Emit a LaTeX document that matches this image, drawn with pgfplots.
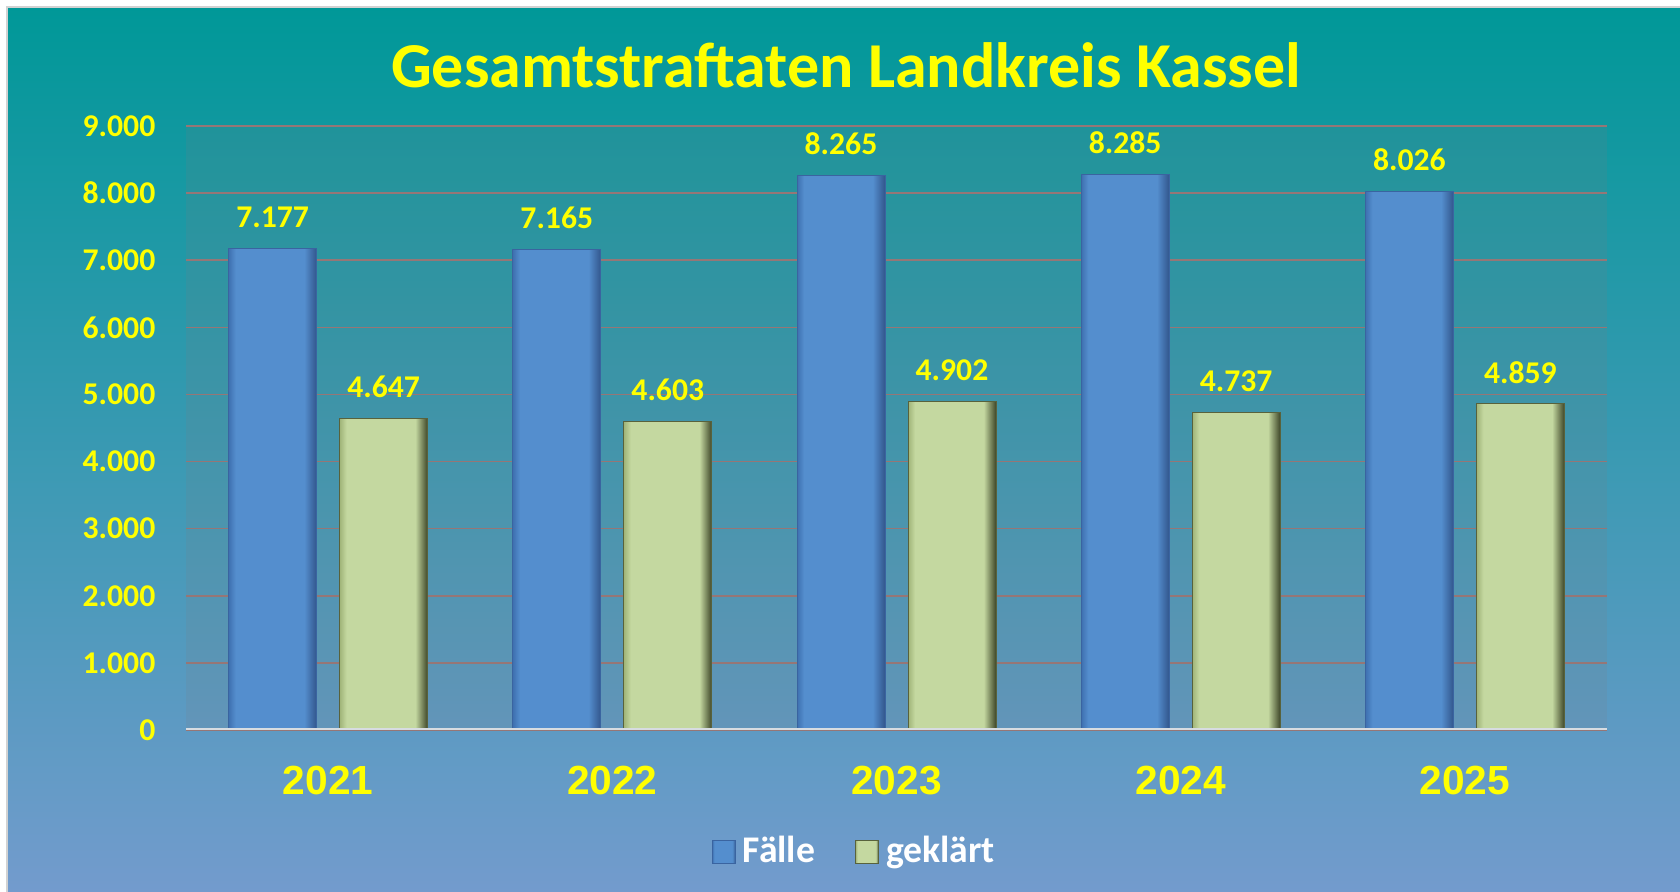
\documentclass[border=0pt]{standalone}
\usepackage{fontspec}
\setmainfont{Carlito}
\newfontfamily\arialfont{Liberation Sans}
\usepackage{pgfplots}
\pgfplotsset{compat=1.18}
\definecolor{ttl}{RGB}{255,255,0}
\definecolor{bgtop}{RGB}{0,152,152}
\definecolor{bgmid}{RGB}{72,150,174}
\definecolor{bgbot}{RGB}{115,155,205}
\definecolor{gridc}{RGB}{150,118,118}
\definecolor{barblue}{RGB}{84,142,206}
\definecolor{barblueedge}{RGB}{58,100,160}
\definecolor{bbleft}{RGB}{62,112,176}
\definecolor{bbright}{RGB}{50,86,140}
\definecolor{bargreen}{RGB}{196,216,160}
\definecolor{bargreenedge}{RGB}{88,98,60}
\definecolor{bgleft}{RGB}{160,180,120}
\definecolor{bgright}{RGB}{62,70,40}
\definecolor{plotbg}{RGB}{128,125,128}
\pgfdeclarehorizontalshading{bluebev}{100bp}{color(0bp)=(bbleft); color(25bp)=(bbleft); color(29bp)=(barblue); color(68bp)=(barblue); color(75bp)=(bbright); color(100bp)=(bbright)}
\pgfdeclarehorizontalshading{greenbev}{100bp}{color(0bp)=(bgleft); color(25bp)=(bgleft); color(29bp)=(bargreen); color(68bp)=(bargreen); color(75bp)=(bgright); color(100bp)=(bgright)}
\pgfplotsset{
  bluebar/.style={ybar, bar width=26.4pt, bar shift=-16.65pt, fill=barblue, shading=bluebev, draw=barblueedge, line width=0.3pt,
    every node near coord/.append style={xshift=-16.65pt}},
  greenbar/.style={ybar, bar width=26.4pt, bar shift=16.65pt, fill=bargreen, shading=greenbev, draw=bargreenedge, line width=0.3pt,
    every node near coord/.append style={xshift=16.65pt}},
}
\begin{document}
\begin{tikzpicture}
\fill[white] (0,0) rectangle (504pt,267.6pt);
\shade[top color=bgtop, middle color=bgmid, bottom color=bgbot] (2.1pt,0) rectangle (504pt,265.5pt);
\draw[gray!35, line width=0.6pt] (2.1pt,0) -- (2.1pt,265.5pt) -- (504pt,265.5pt);
\node[anchor=base, font=\bfseries\fontsize{19.2}{20}\selectfont, text=ttl, inner sep=0pt] at (253.8pt,241.2pt) {Gesamtstraftaten Landkreis Kassel};
\begin{axis}[
  at={(55.8pt,48.6pt)}, anchor=south west,
  scale only axis, width=426.3pt, height=181.2pt,
  ymin=0, ymax=9000, ytick={0,1000,...,9000},
  xmin=-0.5, xmax=4.5, xtick={0,1,2,3,4}, xticklabels={2021,2022,2023,2024,2025},
  axis line style={draw=none},
  major tick length=0pt,
  ymajorgrids, grid style={color=gridc, line width=0.45pt},
  axis background/.style={fill=plotbg, fill opacity=0.15},
  /pgf/number format/.cd, 1000 sep={.}, assume math mode=true, /pgfplots/.cd,
  yticklabel style={font=\bfseries\fontsize{9.5}{10}\selectfont, text=ttl, inner sep=0pt, anchor=east, xshift=-9pt},
  xticklabel style={font=\arialfont\bfseries\fontsize{12.2}{13}\selectfont, text=ttl, inner sep=0pt, anchor=base, yshift=-19.5pt},
  nodes near coords={\pgfmathprintnumber[fixed,precision=0,1000 sep={.},assume math mode=true]{\pgfplotspointmeta}},
  every node near coord/.append style={font=\bfseries\fontsize{9.5}{10}\selectfont, text=ttl, inner sep=0pt, anchor=south, yshift=6pt},
  legend style={at={(0.472,-0.202)}, anchor=center, draw=none, fill=none, legend columns=2,
    font=\bfseries\fontsize{11.3}{12}\selectfont, text=white,
    /tikz/every even column/.append style={column sep=10pt}},
  legend image code/.code={\draw[#1] (0pt,-3.5pt) rectangle (7pt,3.5pt);},
]
\addplot[bluebar] coordinates {(0,7177)};
\addlegendentry{Fälle}
\addplot[greenbar] coordinates {(0,4647)};
\addlegendentry{geklärt}
\addplot[bluebar, forget plot] coordinates {(1,7165)};
\addplot[bluebar, forget plot] coordinates {(2,8265)};
\addplot[bluebar, forget plot] coordinates {(3,8285)};
\addplot[bluebar, forget plot] coordinates {(4,8026)};
\addplot[greenbar, forget plot] coordinates {(1,4603)};
\addplot[greenbar, forget plot] coordinates {(2,4902)};
\addplot[greenbar, forget plot] coordinates {(3,4737)};
\addplot[greenbar, forget plot] coordinates {(4,4859)};
\draw[color={rgb,255:red,215;green,220;blue,225}, line width=0.9pt] (rel axis cs:0,0) -- (rel axis cs:1,0);
\end{axis}
\pgfresetboundingbox
\useasboundingbox (0,0) rectangle (504pt,267.6pt);
\end{tikzpicture}
\end{document}
